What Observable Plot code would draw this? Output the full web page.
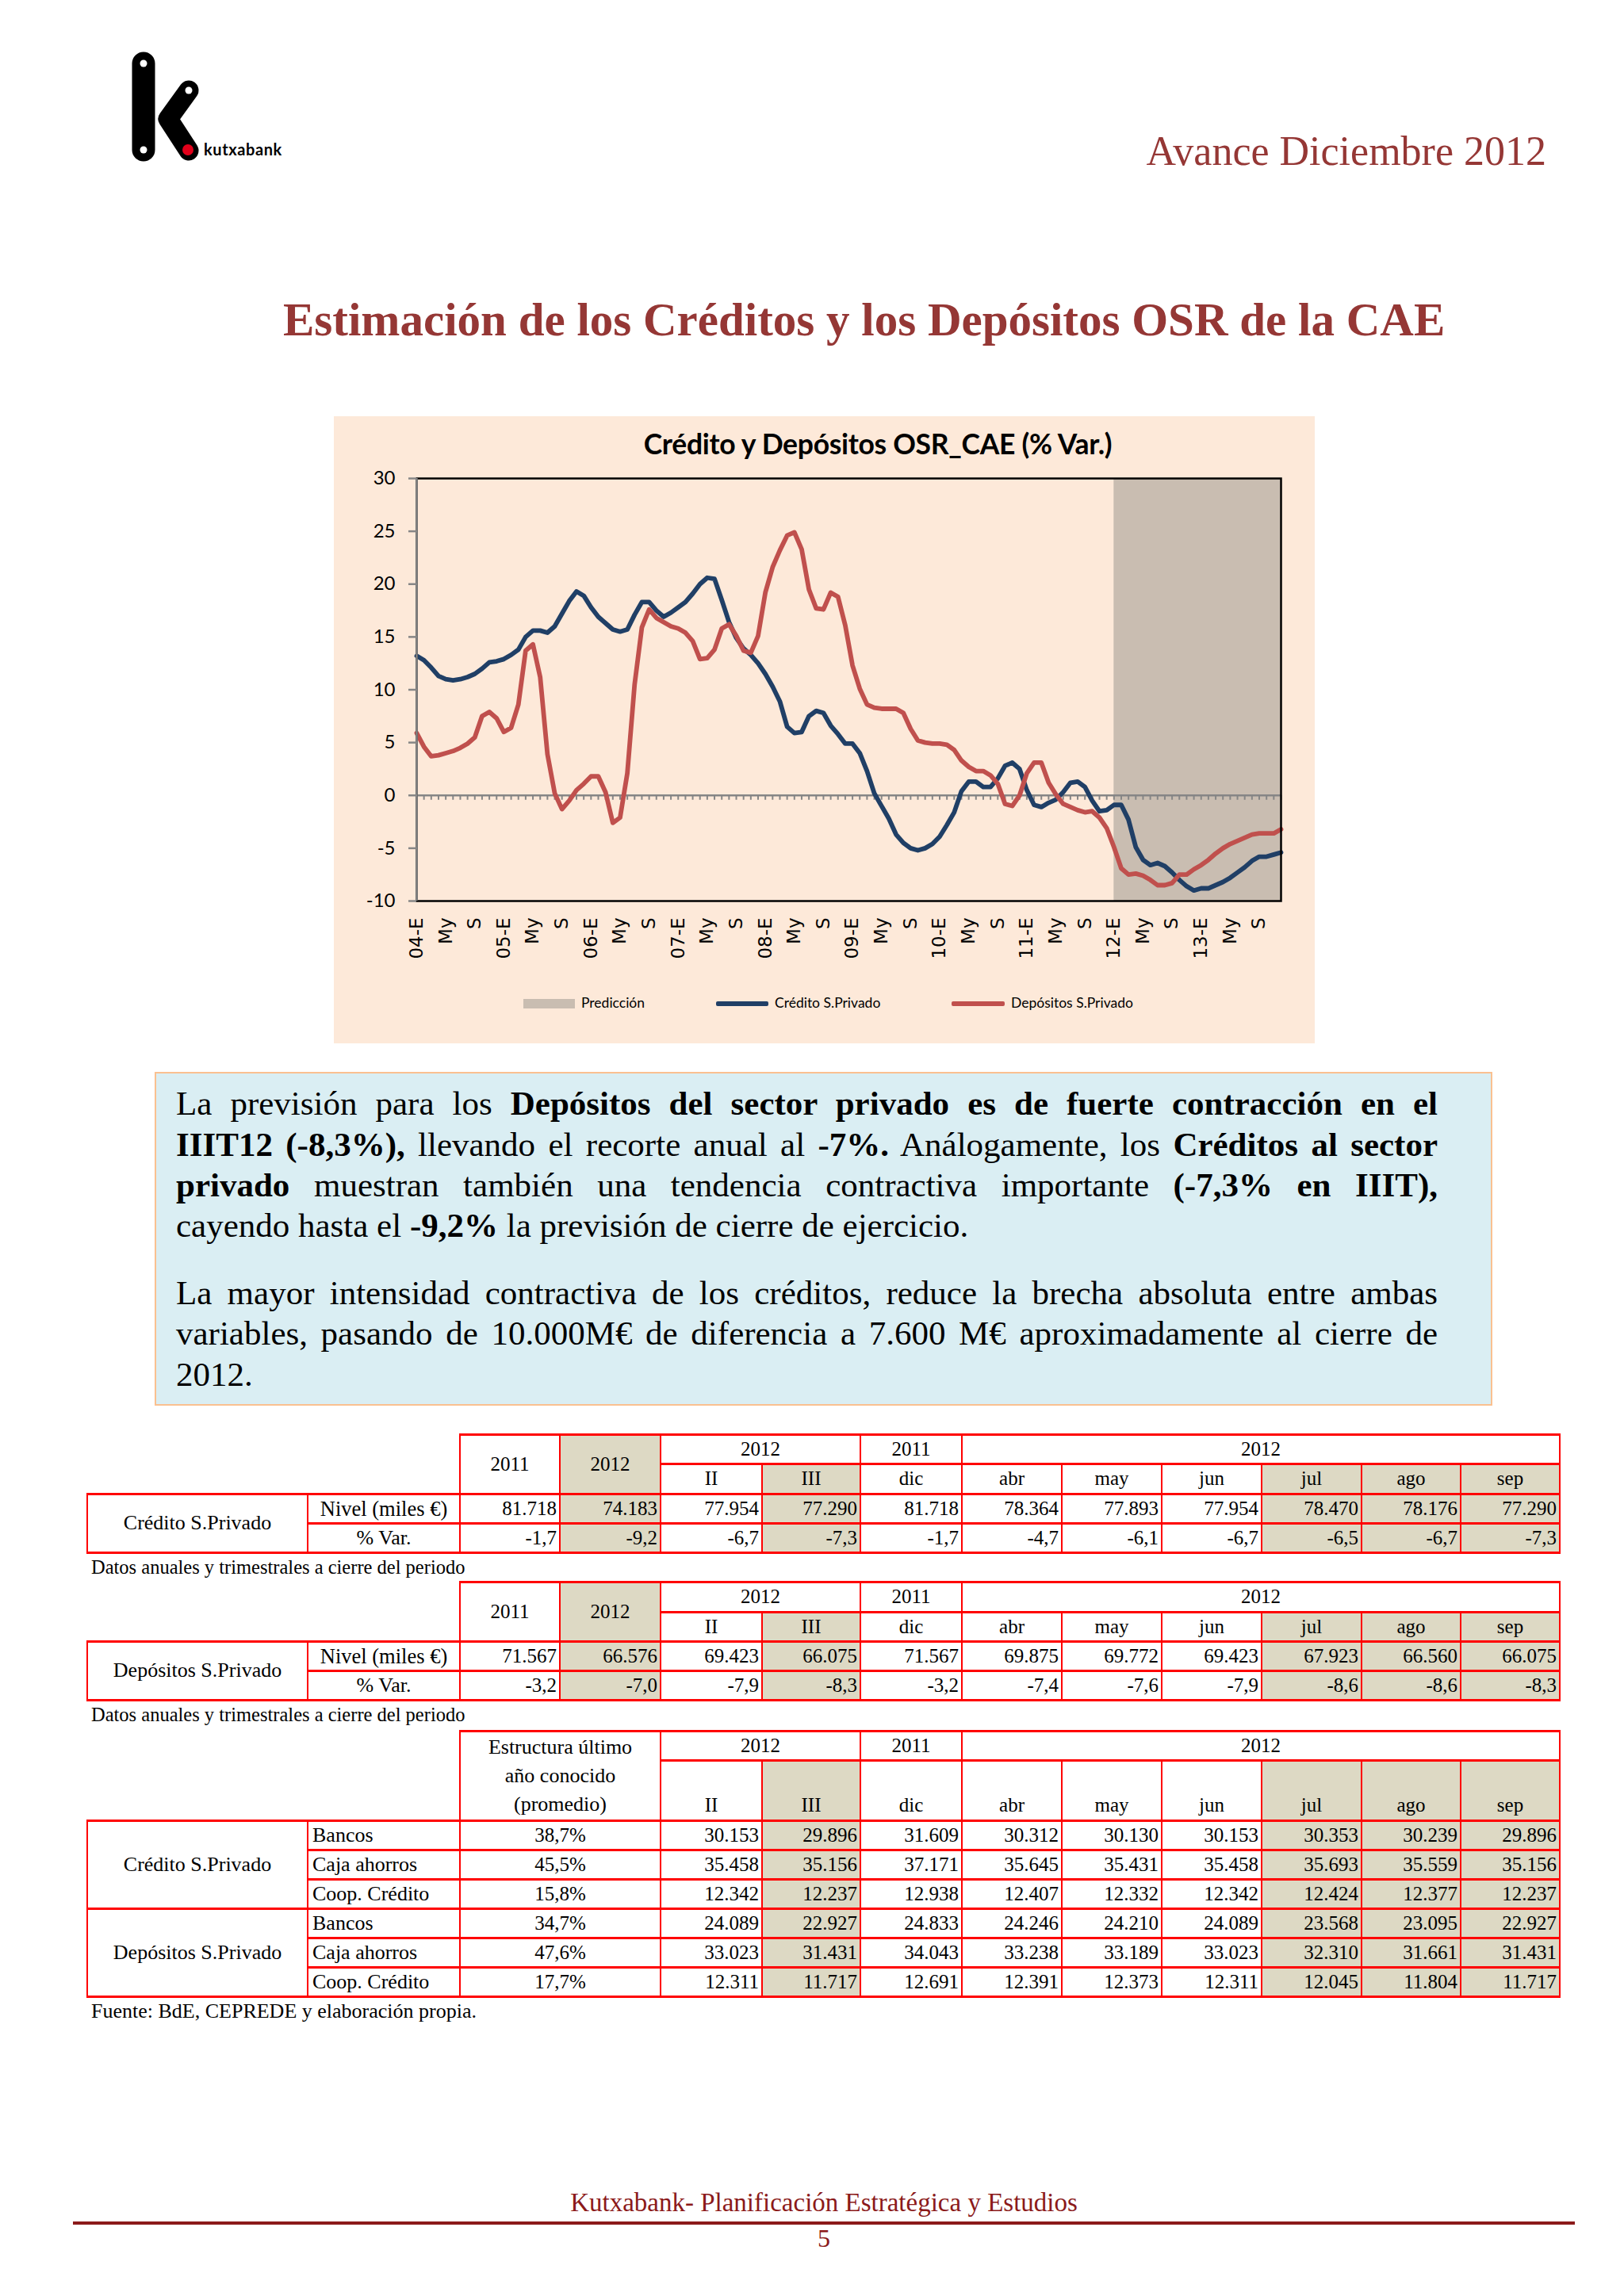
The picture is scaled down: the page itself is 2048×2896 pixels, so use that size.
<!DOCTYPE html>
<html><head><meta charset="utf-8">
<script src="https://cdn.jsdelivr.net/npm/d3@7"></script>
<script src="https://cdn.jsdelivr.net/npm/@observablehq/plot@0.6"></script>
<style>
html,body{margin:0;padding:0;background:#fff;}
#page{position:relative;width:2048px;height:2896px;overflow:hidden;background:#fff;}
</style></head>
<body><div id="page"></div>
<script>
// ---------------- DATA ----------------
const mesInicio = "2004-01";
// Crédito S.Privado, % var. interanual, mensual 2004-01 .. 2013-12
const creditoSPrivado = [
 13.2,12.8,12.1,11.3,11.0,10.9,11.0,11.2,11.5,12.0,
 12.6,12.7,12.9,13.3,13.8,15.0,15.6,15.6,15.4,16.0,
 17.2,18.4,19.3,18.9,17.8,16.9,16.3,15.7,15.5,15.7,
 17.1,18.3,18.3,17.5,16.9,17.3,17.8,18.3,19.1,20.0,
 20.6,20.5,18.5,16.4,14.9,13.9,13.3,12.5,11.5,10.3,
 8.9,6.5,5.9,6.0,7.5,8.0,7.8,6.6,5.8,4.9,
 4.9,4.0,2.3,0.2,-1.0,-2.2,-3.7,-4.5,-5.0,-5.2,
 -5.0,-4.6,-3.9,-2.8,-1.6,0.4,1.3,1.3,0.8,0.8,
 1.6,2.8,3.1,2.5,0.5,-0.9,-1.1,-0.7,-0.4,0.3,
 1.2,1.3,0.8,-0.5,-1.5,-1.4,-0.9,-0.9,-2.3,-4.9,
 -6.1,-6.6,-6.4,-6.7,-7.3,-8.0,-8.6,-9.0,-8.8,-8.8,
 -8.5,-8.2,-7.8,-7.3,-6.8,-6.2,-5.8,-5.8,-5.6,-5.4];
// Depósitos S.Privado
const depositosSPrivado = [
 5.9,4.6,3.7,3.8,4.0,4.2,4.5,4.9,5.5,7.5,
 7.9,7.3,6.0,6.4,8.6,13.7,14.3,11.2,3.9,0.2,
 -1.3,-0.5,0.5,1.1,1.8,1.8,0.3,-2.6,-2.1,2.1,
 10.5,15.9,17.6,16.8,16.4,16.0,15.8,15.4,14.6,12.9,
 13.0,13.8,15.8,16.2,15.1,13.7,13.5,15.1,19.2,21.6,
 23.2,24.6,24.9,23.3,19.5,17.7,17.6,19.2,18.8,16.1,
 12.3,10.1,8.6,8.3,8.2,8.2,8.2,7.8,6.3,5.2,
 5.0,4.9,4.9,4.8,4.3,3.3,2.7,2.3,2.3,1.9,
 1.1,-0.8,-1.0,0.0,2.1,3.1,3.1,1.2,0.1,-0.8,
 -1.1,-1.4,-1.6,-1.5,-2.1,-3.1,-4.9,-6.9,-7.5,-7.4,
 -7.6,-8.0,-8.5,-8.5,-8.3,-7.5,-7.5,-7.0,-6.6,-6.1,
 -5.5,-5.0,-4.6,-4.3,-4.0,-3.7,-3.6,-3.6,-3.6,-3.2];
const prediccionDesde = "2012-01";
const prediccionHasta = "2013-12";
// x tick labels, one every 4 months from 2004-01
const etiquetasX = ["04-E","My","S","05-E","My","S","06-E","My","S","07-E","My","S",
 "08-E","My","S","09-E","My","S","10-E","My","S","11-E","My","S","12-E","My","S","13-E","My","S"];
const ticksY = [-10,-5,0,5,10,15,20,25,30];
const serieNombres = ["Predicción","Crédito S.Privado","Depósitos S.Privado"];

// Tables
const cabAnual = ["2011","2012"];
const cabGrupos = [["2012",2],["2011",1],["2012",6]];
const cabPeriodos = ["II","III","dic","abr","may","jun","jul","ago","sep"];
const creditoNivel = ["81.718","74.183","77.954","77.290","81.718","78.364","77.893","77.954","78.470","78.176","77.290"];
const creditoVar = ["-1,7","-9,2","-6,7","-7,3","-1,7","-4,7","-6,1","-6,7","-6,5","-6,7","-7,3"];
const depositosNivel = ["71.567","66.576","69.423","66.075","71.567","69.875","69.772","69.423","67.923","66.560","66.075"];
const depositosVar = ["-3,2","-7,0","-7,9","-8,3","-3,2","-7,4","-7,6","-7,9","-8,6","-8,6","-8,3"];
const entidades = ["Bancos","Caja ahorros","Coop. Crédito"];
const creditoEstructura = ["38,7%","45,5%","15,8%"];
const depositosEstructura = ["34,7%","47,6%","17,7%"];
const creditoEntidades = [
 ["30.153","29.896","31.609","30.312","30.130","30.153","30.353","30.239","29.896"],
 ["35.458","35.156","37.171","35.645","35.431","35.458","35.693","35.559","35.156"],
 ["12.342","12.237","12.938","12.407","12.332","12.342","12.424","12.377","12.237"]];
const depositosEntidades = [
 ["24.089","22.927","24.833","24.246","24.210","24.089","23.568","23.095","22.927"],
 ["33.023","31.431","34.043","33.238","33.189","33.023","32.310","31.661","31.431"],
 ["12.311","11.717","12.691","12.391","12.373","12.311","12.045","11.804","11.717"]];

// ---------------- HELPERS ----------------
const page = document.getElementById("page");
const RED = "#953735";
const FONT = {
  serif: ['"Liberation Serif","Times New Roman",serif', 0.8375],
  lato: ['Lato,"Open Sans",sans-serif', 0.887]
};
function addText(parent, html, o) {
  const [fam, k] = FONT[o.font || "serif"];
  const d = document.createElement("div");
  d.innerHTML = html;
  const s = d.style;
  s.position = "absolute"; s.lineHeight = o.size + "px";
  s.fontFamily = fam; s.fontSize = o.size + "px"; s.color = o.color || "#000";
  if (o.weight) s.fontWeight = o.weight;
  if (o.ls) s.letterSpacing = o.ls + "px";
  s.top = (o.baseline - k * o.size) + "px";
  if (o.justify) {
    s.left = o.x + "px"; s.width = o.width + "px"; s.whiteSpace = "normal";
    s.textAlign = "justify"; s.textAlignLast = "justify";
  } else {
    s.whiteSpace = "nowrap";
    if (o.anchor === "end") { s.left = (o.x - 3000) + "px"; s.width = "3000px"; s.textAlign = "right"; }
    else if (o.anchor === "middle") { s.left = (o.x - 1500) + "px"; s.width = "3000px"; s.textAlign = "center"; }
    else s.left = o.x + "px";
  }
  parent.appendChild(d);
  return d;
}
function box(parent, x, y, w, h, css) {
  const d = document.createElement("div");
  d.style.cssText = `position:absolute;left:${x}px;top:${y}px;width:${w}px;height:${h}px;` + (css || "");
  parent.appendChild(d);
  return d;
}
const monthIndex = (m) => { const [y, mo] = m.split("-").map(Number); const [y0, m0] = mesInicio.split("-").map(Number); return (y - y0) * 12 + (mo - m0); };

// ---------------- HEADER ----------------
page.insertAdjacentHTML("beforeend", `
<svg width="400" height="230" style="position:absolute;left:0;top:0">
  <line x1="181" y1="80" x2="181" y2="189" stroke="#000" stroke-width="29" stroke-linecap="round"/>
  <polyline points="238,114 212,150 238,190" fill="none" stroke="#000" stroke-width="25" stroke-linecap="round" stroke-linejoin="round"/>
  <circle cx="181" cy="80" r="4.5" fill="#fff"/>
  <circle cx="238" cy="114" r="4.5" fill="#fff"/>
  <circle cx="181" cy="189" r="4.5" fill="#fff"/>
  <circle cx="237" cy="189" r="7" fill="#e2001a"/>
  <text x="257" y="196" font-family="Lato" font-weight="bold" font-size="20" letter-spacing="0.6">kutxabank</text>
</svg>`);
addText(page, "Avance Diciembre 2012", {x: 1950, baseline: 209, size: 52, color: RED, anchor: "end"});
addText(page, "Estimación de los Créditos y los Depósitos OSR de la CAE", {x: 357, baseline: 423, size: 59, color: RED, weight: "bold"});

// ---------------- CHART ----------------
const chartX = 421, chartY = 525, chartW = 1237, chartH = 791;
const chart = box(page, chartX, chartY, chartW, chartH, "background:#FDE9D9;");
addText(chart, "Crédito y Depósitos OSR_CAE (% Var.)", {x: 686, baseline: 48, size: 35.5, font: "lato", weight: "bold", anchor: "middle", ls: -0.3});

const idxSeries = creditoSPrivado.map((_, i) => i);
const nMeses = creditoSPrivado.length;
const predColor = "#C9BDB1", azul = "#203F66", rojo = "#C0504D", gris = "#868686";
const tickIdx = etiquetasX.map((_, k) => k * 4);
const etiquetaDe = new Map(tickIdx.map((v, k) => [v, etiquetasX[k]]));

const svg = Plot.plot({
  width: chartW, height: 655,
  marginLeft: 104, marginRight: 43, marginTop: 18, marginBottom: 104,
  x: {domain: [0, nMeses - 1]},
  y: {domain: [ticksY[0], ticksY[ticksY.length - 1]]},
  style: {background: "transparent", fontFamily: "Lato", fontSize: "24px", color: "#000", overflow: "visible"},
  marks: [
    Plot.rect([{desde: monthIndex(prediccionDesde), hasta: monthIndex(prediccionHasta)}], {x1: "desde", x2: "hasta", fill: predColor}),
    Plot.ruleY([0], {stroke: gris, strokeWidth: 2.5}),
    Plot.ruleX(idxSeries, {x: d => d, y1: 0, y2: 0, insetBottom: -6, stroke: gris, strokeWidth: 2}),
    Plot.lineY(creditoSPrivado, {x: (d, i) => i, y: d => d, stroke: azul, strokeWidth: 5.8, strokeLinejoin: "round", strokeLinecap: "round"}),
    Plot.lineY(depositosSPrivado, {x: (d, i) => i, y: d => d, stroke: rojo, strokeWidth: 5.8, strokeLinejoin: "round", strokeLinecap: "round"}),
    Plot.frame({stroke: "#000", strokeWidth: 2.5}),
    Plot.ruleX([0], {stroke: gris, strokeWidth: 2.5}),
    Plot.axisY({ticks: ticksY, tickFormat: d => String(d), tickSize: 10, tickPadding: 17, stroke: gris, strokeWidth: 2.5, fill: "#000", fontSize: 24, label: null}),
    Plot.axisX({ticks: tickIdx, tickFormat: d => etiquetaDe.get(d), tickRotate: -90, tickSize: 0, tickPadding: 21, fontSize: 23, fontFamily: "DejaVu Sans", fill: "#000", label: null})
  ]
});
svg.style.position = "absolute";
svg.style.left = "0px";
svg.style.top = "60px";
chart.appendChild(svg);

// legend
const legY = 741;
box(chart, 239, legY - 6, 65, 12, `background:${predColor};`);
addText(chart, serieNombres[0], {x: 312, baseline: legY + 6, size: 17.5, font: "lato"});
box(chart, 482, legY - 3, 66, 6, `background:${azul};border-radius:2px;`);
addText(chart, serieNombres[1], {x: 556, baseline: legY + 6, size: 17.5, font: "lato"});
box(chart, 779, legY - 3, 67, 6, `background:${rojo};border-radius:2px;`);
addText(chart, serieNombres[2], {x: 854, baseline: legY + 6, size: 17.5, font: "lato"});

// ---------------- TEXT BOX ----------------
box(page, 195, 1352, 1687, 421, "box-sizing:border-box;background:#DAEEF3;border:2px solid #FAC090;");
const lineas = [
  ['La previsión para los <b>Depósitos del sector privado es de fuerte contracción en el</b>', 1406, true],
  ['<b>IIIT12 (-8,3%),</b> llevando el recorte anual al <b>-7%.</b> Análogamente, los <b>Créditos al sector</b>', 1458, true],
  ['<b>privado</b> muestran también una tendencia contractiva importante <b>(-7,3% en IIIT),</b>', 1509, true],
  ['cayendo hasta el <b>-9,2%</b> la previsión de cierre de ejercicio.', 1560, false],
  ['La mayor intensidad contractiva de los créditos, reduce la brecha absoluta entre ambas', 1645, true],
  ['variables, pasando de 10.000M€ de diferencia a 7.600 M€ aproximadamente al cierre de', 1696, true],
  ['2012.', 1748, false]
];
for (const [html, bl, just] of lineas) {
  addText(page, html, {x: 222, baseline: bl, size: 43, justify: just, width: 1591});
}

// ---------------- TABLES ----------------
const colX = [110, 388, 580, 706, 833, 961, 1085, 1213, 1339, 1465, 1591, 1717, 1842, 1967];
const SHADE = "#DDD9C4";
function cell(x0, x1, y0, y1, html, o = {}) {
  const d = document.createElement("div");
  const jc = o.align === "right" ? "flex-end" : o.align === "left" ? "flex-start" : "center";
  const ai = o.valign === "bottom" ? "flex-end" : "center";
  const fs = o.fs || 25;
  d.style.cssText = `position:absolute;box-sizing:border-box;left:${x0 - 1}px;top:${y0 - 1.5}px;width:${x1 - x0 + 2}px;height:${y1 - y0 + 3}px;` +
    `border-left:2px solid #f00;border-right:2px solid #f00;border-top:3px solid #f00;border-bottom:3px solid #f00;` +
    `display:flex;justify-content:${jc};align-items:${ai};text-align:center;font-family:"Liberation Serif",serif;font-size:${fs}px;line-height:${o.lh || 28}px;color:#000;` +
    `padding:0 ${o.align === "right" ? 3 : o.align === "left" ? 5 : 0}px ${o.valign === "bottom" ? 4 : 0}px;background:${o.shade ? SHADE : "#fff"};white-space:nowrap;`;
  d.innerHTML = html;
  page.appendChild(d);
}
const shadedVals = new Set([1, 3, 8, 9, 10]);
const shadedPer = new Set([1, 6, 7, 8]);
function headerGroups(r0, r1, r2) {
  let c = 4;
  for (const [lab, span] of cabGrupos) { cell(colX[c], colX[c + span], r0, r1, lab); c += span; }
  cabPeriodos.forEach((p, k) => cell(colX[4 + k], colX[5 + k], r1, r2, p, {shade: shadedPer.has(k), valign: r2 - r1 > 50 ? "bottom" : "center"}));
}
function tablaSimple(rows, nombre, nivel, variacion) {
  const [r0, r1, r2, r3, r4] = rows;
  cell(colX[2], colX[3], r0, r2, cabAnual[0]);
  cell(colX[3], colX[4], r0, r2, cabAnual[1], {shade: true});
  headerGroups(r0, r1, r2);
  cell(colX[0], colX[1], r2, r4, nombre, {fs: 26});
  cell(colX[1], colX[2], r2, r3, "Nivel (miles €)", {fs: 26.5});
  cell(colX[1], colX[2], r3, r4, "% Var.", {fs: 26});
  nivel.forEach((v, k) => cell(colX[2 + k], colX[3 + k], r2, r3, v, {align: "right", shade: shadedVals.has(k)}));
  variacion.forEach((v, k) => cell(colX[2 + k], colX[3 + k], r3, r4, v, {align: "right", shade: shadedVals.has(k)}));
}
tablaSimple([1809, 1846, 1884, 1921, 1958], "Crédito S.Privado", creditoNivel, creditoVar);
addText(page, "Datos anuales y trimestrales a cierre del periodo", {x: 115, baseline: 1986, size: 24.5});
tablaSimple([1995, 2033, 2070, 2107, 2144], "Depósitos S.Privado", depositosNivel, depositosVar);
addText(page, "Datos anuales y trimestrales a cierre del periodo", {x: 115, baseline: 2172, size: 24.5});

// Table 3
const R3 = [2183, 2220, 2296, 2333, 2370, 2407, 2444, 2481, 2518];
cell(colX[2], colX[4], R3[0], R3[2], "Estructura último<br>año conocido<br>(promedio)", {lh: 36, fs: 26});
headerGroups(R3[0], R3[1], R3[2]);
function grupo(r0, nombre, estructura, valores) {
  cell(colX[0], colX[1], R3[r0], R3[r0 + 3], nombre, {fs: 26});
  entidades.forEach((e, j) => {
    const ya = R3[r0 + j], yb = R3[r0 + j + 1];
    cell(colX[1], colX[2], ya, yb, e, {align: "left", fs: 26});
    cell(colX[2], colX[4], ya, yb, estructura[j]);
    valores[j].forEach((v, k) => cell(colX[4 + k], colX[5 + k], ya, yb, v, {align: "right", shade: shadedPer.has(k)}));
  });
}
grupo(2, "Crédito S.Privado", creditoEstructura, creditoEntidades);
grupo(5, "Depósitos S.Privado", depositosEstructura, depositosEntidades);
addText(page, "Fuente: BdE, CEPREDE y elaboración propia.", {x: 115, baseline: 2546, size: 26});

// ---------------- FOOTER ----------------
const FOOT = "#8B1A1A";
addText(page, "Kutxabank- Planificación Estratégica y Estudios", {x: 1039, baseline: 2790, size: 33, color: FOOT, anchor: "middle"});
box(page, 92, 2802, 1894, 4, `background:${FOOT};`);
addText(page, "5", {x: 1039, baseline: 2834, size: 32, color: FOOT, anchor: "middle"});
</script>
</body></html>
